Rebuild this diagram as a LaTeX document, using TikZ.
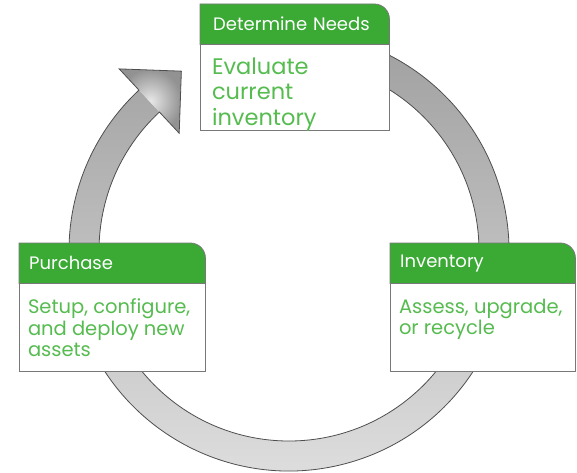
\documentclass[tikz,border=0pt]{standalone}
\usepackage{fontspec}
\setmainfont{Poppins}
\usetikzlibrary{positioning}

\definecolor{headgreen}{RGB}{58,170,53}
\definecolor{notegreen}{RGB}{86,188,80}
\definecolor{boxline}{RGB}{120,120,120}
\definecolor{ringline}{RGB}{78,78,78}
\definecolor{ringtop}{RGB}{156,156,156}
\definecolor{ringmid}{RGB}{172,172,172}
\definecolor{ringlow}{RGB}{224,224,224}
\definecolor{tiplight}{RGB}{232,232,232}
\definecolor{tipdark}{RGB}{146,146,146}

\pgfdeclarelayer{back}
\pgfdeclarelayer{mid}
\pgfsetlayers{back,mid,main}

\tikzset{
  head/.style={anchor=north west, minimum height=40pt, inner xsep=10pt, inner ysep=0pt,
    text=white, font=\fontsize{18}{20}\selectfont, align=left},
  headbar/.style={draw=boxline, fill=headgreen, line width=0.8pt},
  bodybox/.style={draw=boxline, fill=white, line width=0.8pt, inner sep=0pt},
  note/.style={anchor=north west, text=notegreen, align=left, inner xsep=9pt, inner ysep=15pt,
    font=\fontsize{19.5}{21.5}\selectfont},
  ringedge/.style={draw=ringline, line width=0.8pt},
}

\begin{document}
\begin{tikzpicture}[x=1pt, y=1pt]
    \useasboundingbox (0,0) rectangle (577,472);

    % circular arrow behind the cards
    \begin{pgfonlayer}{back}
    \begin{scope}[shift={(289,221)}]
        \shade[top color=ringtop, middle color=ringmid, bottom color=ringlow]
            (105:220) arc[start angle=105, end angle=-227, radius=220]
            -- (133:190) arc[start angle=133, end angle=465, radius=190] -- cycle;
        \shade[inner color=tiplight, outer color=tipdark]
            (133:249) -- (120.9:209.6) -- (133:161) -- cycle;
        \draw[ringedge]
            (105:220) arc[start angle=105, end angle=-227, radius=220]
            -- (133:249) -- (120.9:209.6) -- (133:161)
            -- (133:190) arc[start angle=133, end angle=465, radius=190] -- cycle;
    \end{scope}
    \end{pgfonlayer}

    % Determine Needs
    \node[head, text width=163pt, minimum width=189pt, inner xsep=13pt] (need-head) at (200,468) {Determine Needs};
    \node[bodybox, minimum width=189pt, minimum height=86pt, below=0pt of need-head] (need-body) {};
    \node[note, font=\fontsize{22.5}{25.5}\selectfont, inner xsep=12pt, inner ysep=13pt] (need-text) at (need-body.north west) {Evaluate\\current\\inventory};

    % Purchase
    \node[head, text width=166pt, minimum width=186pt] (buy-head) at (19,229) {Purchase};
    \node[bodybox, minimum width=186pt, minimum height=88pt, below=0pt of buy-head] (buy-body) {};
    \node[note] (buy-text) at (buy-body.north west) {Setup, configure,\\and deploy new\\assets};

    % Inventory
    \node[head, text width=165pt, minimum width=185pt] (stock-head) at (390,229) {Inventory};
    \node[bodybox, minimum width=185pt, minimum height=88pt, below=0pt of stock-head] (stock-body) {};
    \node[note] (stock-text) at (stock-body.north west) {Assess, upgrade,\\or recycle};

    % green title bars, one rounded corner each
    \begin{pgfonlayer}{mid}
    \foreach \card in {need,buy,stock}
        \draw[headbar] (\card-head.south west) -- (\card-head.north west)
            -- ([xshift=-15pt]\card-head.north east) arc[start angle=90, end angle=0, radius=15pt]
            -- (\card-head.south east) -- cycle;
    \end{pgfonlayer}
\end{tikzpicture}
\end{document}
